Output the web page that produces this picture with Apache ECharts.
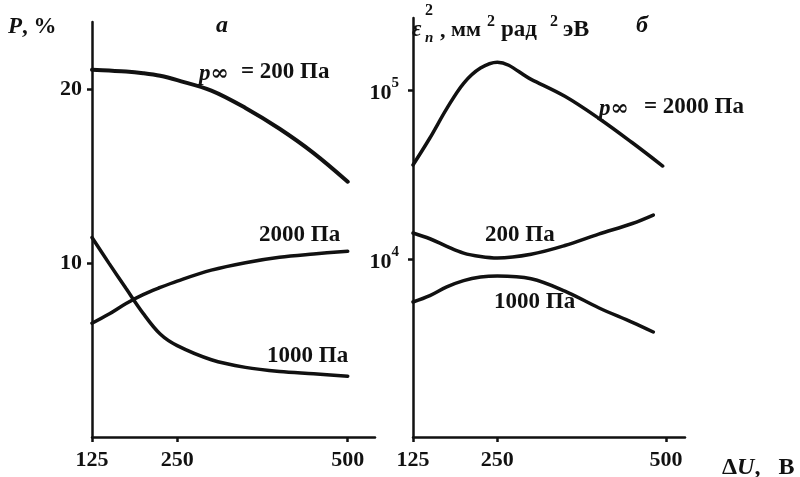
<!DOCTYPE html>
<html><head><meta charset="utf-8">
<script src="https://cdn.jsdelivr.net/npm/echarts@6/dist/echarts.min.js"></script>
<style>html,body{margin:0;padding:0;background:#fff}#c{width:800px;height:477px}</style>
</head><body><div id="c"></div>
<script>
// ---- data (panel а: P, %) ----
var xLeft = [125,150,175,200,225,250,300,350,400,450,500];
var pLeft200  = [21.15,21.1,21.05,20.95,20.8,20.55,19.95,18.95,17.75,16.35,14.7];
var pLeft2000 = [6.55,7.08,7.69,8.2,8.61,8.98,9.61,10.04,10.35,10.54,10.7];
var pLeft1000 = [11.49,10.0,8.55,7.12,5.93,5.26,4.45,4.01,3.77,3.64,3.5];
// ---- data (panel б: emittance^2, log) ----
var xRight2000 = [125,150,175,200,225,250,300,350,400,450,495];
var eRight2000 = [36000,52000,77600,109600,134900,146200,115600,91800,68100,48750,35500];
var xRight = [125,150,175,200,225,250,300,350,400,450,481];
var eRight200  = [14260,13180,11885,10840,10350,10140,10670,12020,14030,16220,18200];
var eRight1000 = [5570,6070,6840,7450,7820,7940,7640,6460,5150,4220,3700];
// ticks
var xTicks = [125,250,500];
var yTicksLeft = [10,20];
var yTicksRight = [10000,100000];

function zip(xs, ys){ return xs.map(function(x,i){ return [x, ys[i]]; }); }

var FONT = '"Liberation Serif","Times New Roman",serif';
var INK = '#111';
var chart = echarts.init(document.getElementById('c'), null, {renderer:'canvas'});

var axisLineStyle = {color: INK, width: 2.5};
var tickStyle = {show:true, length:5, lineStyle:{color:INK, width:2.5}};
var labelStyle = {color: INK, fontFamily: FONT, fontWeight:'bold', fontSize: 22};

function lineSeries(xi, yi, data, w){
  return {type:'line', xAxisIndex:xi, yAxisIndex:yi, data:data, smooth:0.35, symbol:'none',
    lineStyle:{color:INK, width:w||3, cap:'round'}, silent:true, animation:false};
}

var italicRich = {
  i:{fontStyle:'italic', fontFamily:FONT, fontWeight:'bold', fontSize:23, fill:INK},
  inf:{fontFamily:'"DejaVu Serif",serif', fontWeight:'bold', fontSize:22, fill:INK}
};

function txt(x, y, text, opts){
  opts = opts || {};
  return {type:'text', x:x, y:y, silent:true, style:{
    text:text, fill:INK, fontFamily:FONT, fontWeight:'bold',
    fontSize: opts.size || 23, fontStyle: opts.italic ? 'italic' : 'normal',
    align: opts.align || 'left', verticalAlign: opts.va || 'middle',
    rich: opts.rich }};
}

var option = {
  backgroundColor:'#fff',
  animation:false,
  grid:[
    {left:92, top:22, width:283, height:415},
    {left:413, top:18, width:272, height:419}
  ],
  xAxis:[
    {type:'value', gridIndex:0, min:125, max:540, splitLine:{show:false},
     axisLine:{show:true, lineStyle:axisLineStyle},
     axisTick:Object.assign({customValues:xTicks}, tickStyle),
     axisLabel:Object.assign({customValues:xTicks, margin:12}, labelStyle)},
    {type:'value', gridIndex:1, min:125, max:528, splitLine:{show:false},
     axisLine:{show:true, lineStyle:axisLineStyle},
     axisTick:Object.assign({customValues:xTicks}, tickStyle),
     axisLabel:Object.assign({customValues:xTicks, margin:12}, labelStyle)}
  ],
  yAxis:[
    {type:'value', gridIndex:0, min:0, max:23.9, splitLine:{show:false},
     axisLine:{show:true, lineStyle:axisLineStyle},
     axisTick:Object.assign({customValues:yTicksLeft}, tickStyle),
     axisLabel:Object.assign({customValues:yTicksLeft, margin:10}, labelStyle)},
    {type:'log', logBase:10, gridIndex:1, min:885, max:266700, splitLine:{show:false},
     axisLine:{show:true, lineStyle:axisLineStyle},
     axisTick:Object.assign({customValues:yTicksRight}, tickStyle),
     axisLabel:Object.assign({customValues:yTicksRight, margin:14,
       formatter:function(v){ return '{b|10}{s|' + Math.round(Math.log10(v)) + '}'; },
       rich:{b:{fontFamily:FONT, fontWeight:'bold', fontSize:22, color:INK, lineHeight:28, verticalAlign:'bottom'},
             s:{fontFamily:FONT, fontWeight:'bold', fontSize:15, color:INK, lineHeight:28, verticalAlign:'top'}}
     }, labelStyle)}
  ],
  series:[
    lineSeries(0,0, zip(xLeft, pLeft200), 4),
    lineSeries(0,0, zip(xLeft, pLeft2000), 3.5),
    lineSeries(0,0, zip(xLeft, pLeft1000), 3.5),
    lineSeries(1,1, zip(xRight2000, eRight2000), 3.5),
    lineSeries(1,1, zip(xRight, eRight200), 3.5),
    lineSeries(1,1, zip(xRight, eRight1000), 3.5)
  ],
  graphic:[
    txt(8, 27, '{i|P}, %', {rich:italicRich}),
    txt(216, 26, 'а', {italic:true, size:24}),
    txt(199, 74, '{i|p}{inf|∞}', {rich:italicRich}),
    txt(241, 72, '= 200 Па'),
    txt(259, 235, '2000 Па'),
    txt(267, 356, '1000 Па'),
    // right panel title
    txt(412, 30, 'ε', {italic:true, size:23}),
    txt(425, 38, 'n', {italic:true, size:15}),
    txt(425, 11, '2', {size:16}),
    txt(440, 31, ',', {size:22}),
    txt(451, 30, 'мм', {size:22}),
    txt(487, 22, '2', {size:16}),
    txt(501, 30, 'рад', {size:23}),
    txt(550, 22, '2', {size:16}),
    txt(563, 30, 'эВ', {size:24}),
    txt(636, 26, 'б', {italic:true, size:24}),
    txt(599, 109, '{i|p}{inf|∞}', {rich:italicRich}),
    txt(644, 107, '= 2000 Па'),
    txt(485, 235, '200 Па'),
    txt(494, 302, '1000 Па'),
    txt(722, 468, 'Δ{i|U},\u2002 В', {size:24, rich:{i:{fontStyle:'italic', fontFamily:FONT, fontWeight:'bold', fontSize:24, fill:INK}}})
  ]
};
chart.setOption(option);
</script></body></html>
